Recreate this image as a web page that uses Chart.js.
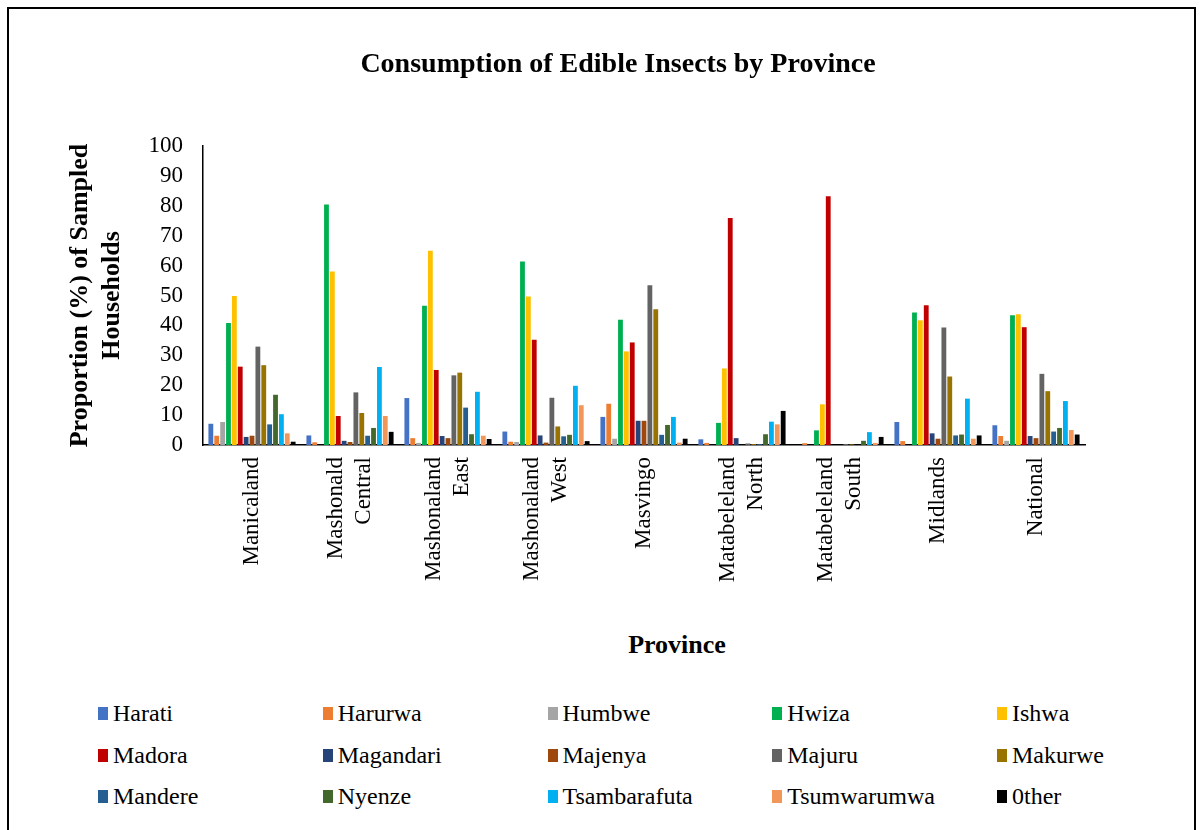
<!DOCTYPE html>
<html>
<head>
<meta charset="utf-8">
<script src="https://cdn.jsdelivr.net/npm/chart.js"></script>
<style>
  body { margin: 0; background: #fff; font-family: 'Liberation Serif', 'Times New Roman', serif; color: #000; }
  #wrap { position: relative; width: 1200px; height: 830px; overflow: hidden; }
  #frame { position: absolute; left: 7px; top: 7px; width: 1189px; height: 900px; border: 2px solid #000; box-sizing: border-box; }
  #title { position: absolute; left: 0; width: 1236px; top: 47px; text-align: center; font-weight: bold; font-size: 28px; line-height: 32px; }
  #xtitle { position: absolute; left: 577px; width: 200px; top: 630px; text-align: center; font-weight: bold; font-size: 26px; line-height: 30px; }
  #chartBox { position: absolute; left: 0; top: 0; width: 1200px; height: 620px; }
  #legend { position: absolute; left: 98px; top: 693px; display: grid; grid-template-columns: repeat(5, 224.75px); }
  .item { display: flex; align-items: center; height: 41.5px; font-family: 'Liberation Serif', 'Times New Roman', serif; font-size: 24px; }
  .box { width: 10px; height: 13px; margin-right: 5px; flex: none; }
</style>
</head>
<body>
<div id="wrap">
  <div id="frame"></div>
  <div id="chartBox"><canvas id="insectChart" width="1200" height="620"></canvas></div>
  <div id="title">Consumption of Edible Insects by Province</div>
  <div id="xtitle">Province</div>
  <div id="legend"></div>
</div>
<script>
// provinces (x axis), split into lines as on the picture
const provinces = [
  'Manicaland', ['Mashonald', 'Central'], ['Mashonaland', 'East'], ['Mashonaland', 'West'],
  'Masvingo', ['Matabeleland', 'North'], ['Matabeleland', 'South'], 'Midlands', 'National'
];

// % of sampled households, one value per province
const harati       = [7.1, 3.2, 15.7, 4.5, 9.4, 1.9, 0, 7.7, 6.6];
const harurwa      = [3.1, 0.9, 2.3, 1.1, 13.8, 0.7, 0.6, 1.3, 3.0];
const humbwe       = [7.7, 0, 0.7, 1.0, 2.1, 0, 0, 0, 1.4];
const hwiza        = [40.8, 80.4, 46.6, 61.4, 41.9, 7.4, 4.9, 44.3, 43.4];
const ishwa        = [49.8, 58.0, 65.0, 49.7, 31.3, 25.6, 13.6, 41.7, 43.7];
const madora       = [26.2, 9.7, 25.1, 35.2, 34.3, 75.9, 83.2, 46.7, 39.4];
const magandari    = [2.7, 1.4, 3.0, 3.2, 8.1, 2.3, 0, 3.9, 3.0];
const majenya      = [3.1, 1.0, 2.3, 0.8, 8.1, 0, 0, 2.1, 2.3];
const majuru       = [32.9, 17.6, 23.3, 15.8, 53.4, 0.5, 0.3, 39.3, 23.8];
const makurwe      = [26.7, 10.7, 24.2, 6.2, 45.4, 0.3, 0.2, 22.9, 18.0];
const mandere      = [6.9, 3.1, 12.5, 2.9, 3.4, 0.3, 0, 3.2, 4.5];
const nyenze       = [16.8, 5.7, 3.6, 3.4, 6.7, 3.6, 1.4, 3.5, 5.7];
const tsambarafuta = [10.3, 26.1, 17.8, 19.8, 9.4, 7.8, 4.3, 15.5, 14.7];
const tsumwarumwa  = [3.9, 9.7, 3.1, 13.3, 0.8, 6.9, 0.7, 2.1, 5.0];
const other        = [1.1, 4.4, 2.0, 1.3, 2.1, 11.4, 2.7, 3.2, 3.5];

const seriesNames = ['Harati', 'Harurwa', 'Humbwe', 'Hwiza', 'Ishwa', 'Madora', 'Magandari', 'Majenya',
  'Majuru', 'Makurwe', 'Mandere', 'Nyenze', 'Tsambarafuta', 'Tsumwarumwa', '0ther'];
const seriesValues = [harati, harurwa, humbwe, hwiza, ishwa, madora, magandari, majenya,
  majuru, makurwe, mandere, nyenze, tsambarafuta, tsumwarumwa, other];
const seriesColors = ['#4472C4', '#ED7D31', '#A5A5A5', '#00B050', '#FFC000', '#C00000', '#264478', '#9E480E',
  '#636363', '#997300', '#255E91', '#43682B', '#00B0F0', '#F1975A', '#000000'];

const serif = "'Liberation Serif', 'Times New Roman', serif";
const xFontSize = 23;

const datasets = seriesNames.map((name, i) => ({
  label: name,
  data: seriesValues[i],
  backgroundColor: seriesColors[i],
  borderWidth: 0,
  categoryPercentage: 0.9,
  barPercentage: 0.82
}));

// two-line province names are centred on their group (Chart.js starts the first line at the tick)
const centreLabels = {
  id: 'centreLabels',
  beforeDraw(chart) {
    const half = xFontSize * 1.2 / 2;
    chart.scales.x.getLabelItems().forEach(it => {
      if (!it._moved && Array.isArray(it.label) && it.label.length > 1) {
        it.options.translation[0] -= half;
        it._moved = true;
      }
    });
  }
};

const ctx = document.getElementById('insectChart').getContext('2d');
new Chart(ctx, {
  type: 'bar',
  data: { labels: provinces, datasets: datasets },
  plugins: [centreLabels],
  options: {
    responsive: false,
    animation: false,
    layout: { padding: { top: 146, right: 115, left: 0, bottom: 0 } },
    plugins: { legend: { display: false }, tooltip: { enabled: false }, title: { display: false } },
    scales: {
      x: {
        grid: { display: false, drawTicks: false },
        border: { display: true, color: '#000', width: 1.5 },
        ticks: {
          color: '#000',
          font: { family: serif, size: xFontSize },
          autoSkip: false,
          maxRotation: 90,
          minRotation: 90,
          padding: 12
        },
        afterFit: s => { s.height = 175; }
      },
      y: {
        min: 0,
        max: 100,
        grid: { display: false, drawTicks: false },
        border: { display: true, color: '#000', width: 1.5 },
        ticks: { stepSize: 10, autoSkip: false, color: '#000', font: { family: serif, size: 23 }, padding: 20 },
        title: {
          display: true,
          text: ['Proportion (%) of Sampled', 'Households'],
          color: '#000',
          font: { family: serif, size: 26, weight: 'bold', lineHeight: 1.25 },
          padding: { top: 64, bottom: 0 }
        },
        afterFit: s => { s.width = 203; }
      }
    }
  }
});

// legend in five fixed columns like the original
const legend = document.getElementById('legend');
seriesNames.forEach((name, i) => {
  const item = document.createElement('div');
  item.className = 'item';
  const box = document.createElement('span');
  box.className = 'box';
  box.style.background = seriesColors[i];
  const txt = document.createElement('span');
  txt.textContent = name;
  item.appendChild(box);
  item.appendChild(txt);
  legend.appendChild(item);
});
</script>
</body>
</html>
